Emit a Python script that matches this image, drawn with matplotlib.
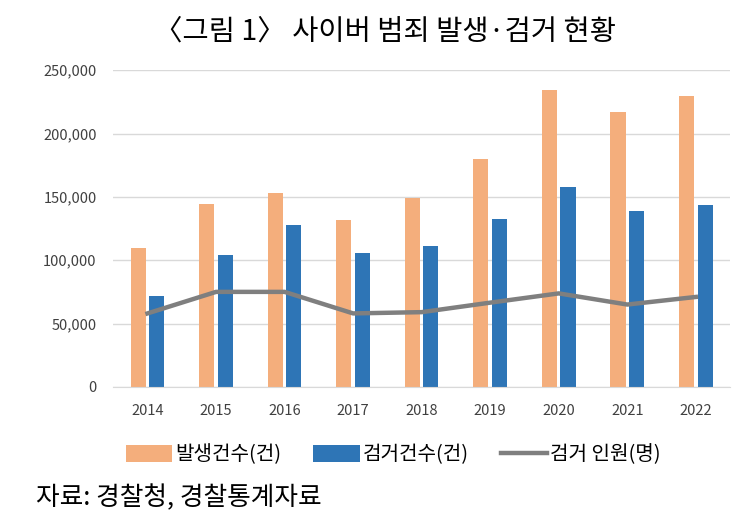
import matplotlib.pyplot as plt
import numpy as np

plt.rcParams['font.family'] = ['Noto Sans CJK KR', 'DejaVu Sans']

years = ["2014", "2015", "2016", "2017", "2018", "2019", "2020", "2021", "2022"]
occurred = [110000, 144500, 153000, 131500, 149500, 180000, 234000, 217000, 230000]
arrested = [71500, 104000, 127500, 106000, 111000, 132500, 157500, 138500, 143500]
persons = [58000, 75000, 75000, 58000, 59000, 66500, 73800, 65000, 71000]

x = np.arange(len(years))
w = 0.22

fig = plt.figure(figsize=(7.45, 5.2), dpi=100)
ax = fig.add_axes([0.152, 0.256, 0.828, 0.609])

b1 = ax.bar(x - 0.135, occurred, width=w, color="#F4AE7C", label="발생건수(건)", zorder=2)
b2 = ax.bar(x + 0.135, arrested, width=w, color="#2E75B6", label="검거건수(건)", zorder=2)
l1, = ax.plot(x, persons, color="#7F7F7F", linewidth=3.2, label="검거 인원(명)", zorder=3)

ax.set_xlim(-0.5, len(years) - 0.5)
ax.set_ylim(0, 250000)
ax.set_yticks(range(0, 250001, 50000))
ax.set_yticklabels([f"{v:,}" for v in range(0, 250001, 50000)])
ax.set_xticks(x)
ax.set_xticklabels(years)
ax.yaxis.grid(True, color="#D9D9D9", linewidth=1, zorder=0)
ax.set_axisbelow(True)
for s in ["top", "right", "left"]:
    ax.spines[s].set_visible(False)
ax.spines["bottom"].set_color("#D9D9D9")
ax.tick_params(axis="both", length=0, labelsize=10.5, labelcolor="#404040")
ax.tick_params(axis="x", pad=12)
ax.tick_params(axis="y", pad=12)

fig.text(0.517, 0.94, "〈그림 1〉 사이버 범죄 발생·검거 현황", ha="center", va="center", fontsize=20.5)

fig.legend(handles=[b1, b2, l1], loc="center", bbox_to_anchor=(0.528, 0.125), ncol=3,
           frameon=False, fontsize=14.5, handlelength=2.3, handleheight=0.9,
           columnspacing=1.6, handletextpad=0.15)

fig.text(0.048, 0.042, "자료: 경찰청, 경찰통계자료", ha="left", va="center", fontsize=18.5)

fig.savefig("out.png", dpi=100)
